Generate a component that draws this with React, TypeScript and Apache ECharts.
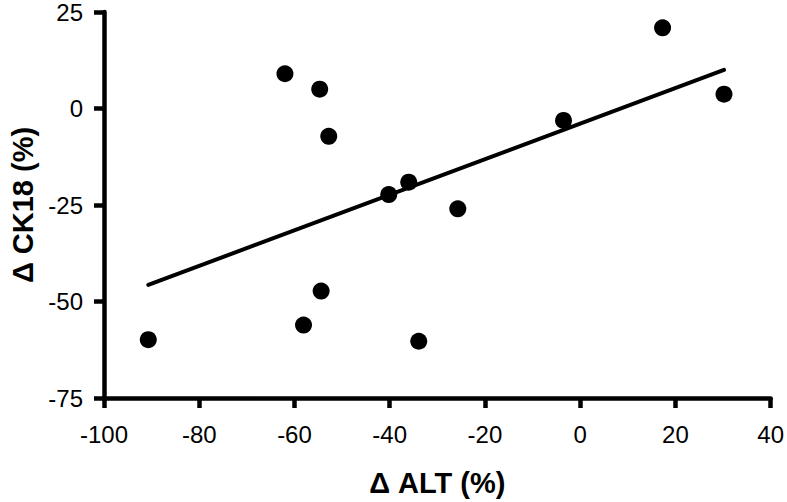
import React, { useEffect, useRef } from "react";
import * as echarts from "echarts";

const altValues = [-62.0, -54.7, -52.8, -36.0, -40.2, -25.7, -54.4, -58.1, -90.7, -33.9, 17.3, 30.2, -3.5];
const ck18Values = [9.0, 5.0, -7.2, -19.1, -22.3, -26.0, -47.3, -56.1, -59.9, -60.3, 20.9, 3.7, -3.1];
const trendX = [-90.7, 30.2];
const trendY = [-45.7, 10.0];
const xTicks = [-100, -80, -60, -40, -20, 0, 20, 40];
const yTicks = [-75, -50, -25, 0, 25];

export default function App() {
  const ref = useRef<HTMLDivElement>(null);
  useEffect(() => {
    if (!ref.current) return;
    const chart = echarts.init(ref.current, null, { renderer: "svg" });
    const font = "Arial, Liberation Sans, sans-serif";
    chart.setOption({
      animation: false,
      backgroundColor: "#ffffff",
      grid: { left: 101, right: 16, top: 12, bottom: 103 },
      xAxis: {
        type: "value",
        min: xTicks[0],
        max: xTicks[xTicks.length - 1],
        interval: 20,
        name: "Δ ALT (%)",
        nameLocation: "middle",
        nameGap: 70,
        nameTextStyle: { fontFamily: font, fontSize: 29, fontWeight: "bold", color: "#000" },
        axisLine: { show: true, onZero: false, lineStyle: { color: "#000000", width: 4.5 } },
        axisTick: { show: true, length: 10, lineStyle: { color: "#000000", width: 4.5 } },
        axisLabel: { fontFamily: font, fontSize: 24, color: "#000", margin: 24 },
        splitLine: { show: false },
      },
      yAxis: {
        type: "value",
        min: yTicks[0],
        max: yTicks[yTicks.length - 1],
        interval: 25,
        name: "Δ CK18 (%)",
        nameLocation: "middle",
        nameGap: 67,
        nameTextStyle: { fontFamily: font, fontSize: 29, fontWeight: "bold", color: "#000" },
        axisLine: { show: true, onZero: false, lineStyle: { color: "#000000", width: 4.5 } },
        axisTick: { show: true, length: 10, lineStyle: { color: "#000000", width: 4.5 } },
        axisLabel: { fontFamily: font, fontSize: 24, color: "#000", margin: 21 },
        splitLine: { show: false },
      },
      series: [
        {
          type: "line",
          data: trendX.map((x, i) => [x, trendY[i]]),
          symbol: "none",
          lineStyle: { color: "#000", width: 4, cap: "round" },
          z: 2,
        },
        {
          type: "scatter",
          data: altValues.map((x, i) => [x, ck18Values[i]]),
          symbol: "circle",
          symbolSize: 17,
          itemStyle: { color: "#000", opacity: 1 },
          z: 3,
        },
      ],
    });
    return () => chart.dispose();
  }, []);
  return <div ref={ref} style={{ width: 787, height: 502, position: "absolute", left: 0, top: 0 }} />;
}
